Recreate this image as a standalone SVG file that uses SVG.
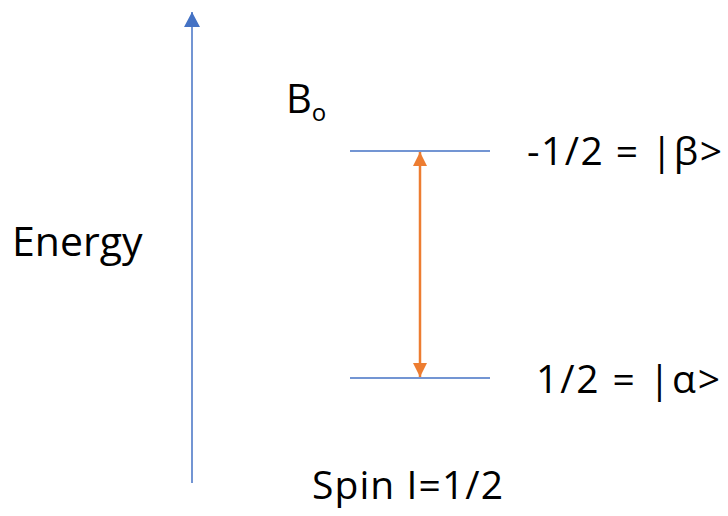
<svg xmlns="http://www.w3.org/2000/svg" width="728" height="516" viewBox="0 0 728 516">
<style>
text{font-family:"Open Sans","Liberation Sans",sans-serif;fill:#000;}
.lvl{stroke:#4472C4;stroke-width:1.3;fill:none;}
</style>
<defs>
<marker id="ab" markerWidth="16" markerHeight="16" refX="15" refY="8" orient="auto" markerUnits="userSpaceOnUse"><path d="M0,0 L15,8 L0,16 Z" fill="#4472C4"/></marker>
<marker id="ao" markerWidth="14" markerHeight="14" refX="14" refY="7" orient="auto-start-reverse" markerUnits="userSpaceOnUse"><path d="M0,0 L14,7 L0,14 Z" fill="#ED7D31"/></marker>
</defs>
<rect width="728" height="516" fill="#fff"/>
<g id="connectors">
<line x1="192" y1="483" x2="192" y2="12" stroke="#4472C4" stroke-width="1.5" marker-end="url(#ab)"/>
<line x1="420" y1="152" x2="420" y2="377" stroke="#ED7D31" stroke-width="2.5" marker-start="url(#ao)" marker-end="url(#ao)"/>
</g>
<g id="level-beta"><line class="lvl" x1="350" y1="151" x2="490" y2="151"/><text x="527" y="165" font-size="39" textLength="195" lengthAdjust="spacing">-1/2 = |β&gt;</text></g>
<g id="level-alpha"><line class="lvl" x1="350" y1="378" x2="490" y2="378"/><text x="536" y="393" font-size="39" textLength="184" lengthAdjust="spacing">1/2 = |α&gt;</text></g>
<g id="energy"><text x="12" y="256" font-size="41">Energy</text></g>
<g id="bo"><text x="286" y="113" font-size="40">B<tspan font-size="24" dy="8">o</tspan></text></g>
<g id="spin"><text x="312" y="499" font-size="39" textLength="191" lengthAdjust="spacing">Spin I=1/2</text></g>
</svg>
